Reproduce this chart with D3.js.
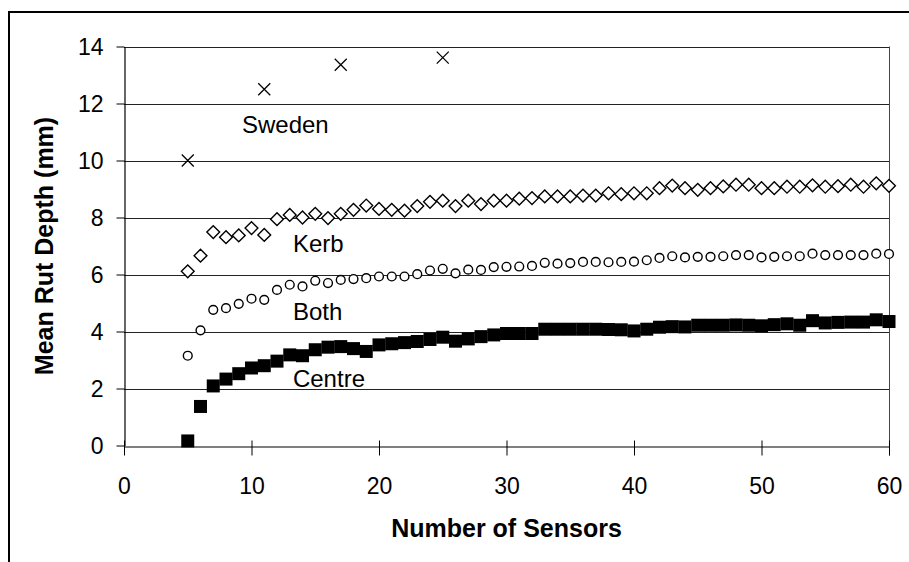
<!DOCTYPE html>
<html><head><meta charset="utf-8">
<script src="https://cdn.jsdelivr.net/npm/d3@7"></script>
<style>
body{margin:0;background:#fff}
svg{display:block;background:#fff}
text{font-family:"Liberation Sans",Arial,sans-serif;fill:#000}
</style>
</head><body>
<svg id="c" width="909" height="562"></svg>
<script>
// ---- data ----
const sensors = [5,6,7,8,9,10,11,12,13,14,15,16,17,18,19,20,21,22,23,24,25,26,27,28,29,30,31,32,33,34,35,36,37,38,39,40,41,42,43,44,45,46,47,48,49,50,51,52,53,54,55,56,57,58,59,60];
const kerb = [6.11,6.66,7.49,7.31,7.37,7.63,7.39,7.94,8.09,8.0,8.13,7.98,8.13,8.27,8.42,8.3,8.27,8.24,8.4,8.55,8.59,8.4,8.59,8.47,8.59,8.59,8.66,8.68,8.74,8.74,8.74,8.77,8.77,8.85,8.82,8.85,8.85,9.03,9.12,9.03,8.97,9.03,9.09,9.15,9.15,9.03,9.03,9.08,9.08,9.13,9.08,9.1,9.15,9.08,9.2,9.11];
const both = [3.15,4.04,4.76,4.82,4.97,5.15,5.11,5.46,5.64,5.58,5.78,5.70,5.81,5.84,5.87,5.93,5.93,5.93,6.01,6.14,6.2,6.04,6.17,6.16,6.26,6.27,6.28,6.3,6.41,6.38,6.4,6.44,6.44,6.43,6.44,6.45,6.5,6.58,6.64,6.6,6.62,6.62,6.64,6.68,6.68,6.6,6.62,6.64,6.64,6.73,6.68,6.68,6.68,6.68,6.73,6.72];
const centre = [0.16,1.37,2.09,2.33,2.52,2.72,2.8,2.96,3.18,3.15,3.36,3.45,3.47,3.4,3.3,3.53,3.57,3.61,3.65,3.72,3.8,3.66,3.74,3.82,3.88,3.93,3.93,3.93,4.08,4.08,4.08,4.08,4.08,4.07,4.06,4.02,4.08,4.15,4.17,4.16,4.22,4.22,4.22,4.23,4.22,4.2,4.24,4.27,4.22,4.38,4.3,4.32,4.33,4.33,4.41,4.35];
const swedenSensors = [5,11,17,25];
const sweden = [10.0,12.5,13.36,13.61];
const xTicks = [0,10,20,30,40,50,60];
const yTicks = [0,2,4,6,8,10,12,14];
const seriesNames = ["Sweden","Kerb","Both","Centre"];
const xTitle = "Number of Sensors";
const yTitle = "Mean Rut Depth (mm)";

// ---- layout ----
const svg = d3.select("#c");
const x = d3.scaleLinear().domain([0,60]).range([124,889]);
const y = d3.scaleLinear().domain([0,14]).range([445.5,46.5]);

// outer frame (top + left visible)
svg.append("path").attr("d","M9,562V12H909")
  .attr("fill","none").attr("stroke","#000").attr("stroke-width",2);

// gridlines
svg.append("g").selectAll("line").data(yTicks.filter(d=>d>0)).join("line")
  .attr("x1",x(0)).attr("x2",x(60))
  .attr("y1",d=>Math.round(y(d))+0.5).attr("y2",d=>Math.round(y(d))+0.5)
  .attr("stroke","#222").attr("stroke-width",1);

// right border of plot
svg.append("line").attr("x1",x(60)+0.5).attr("x2",x(60)+0.5)
  .attr("y1",y(14)).attr("y2",y(0)+10).attr("stroke","#444").attr("stroke-width",1);

// y axis
const gy = svg.append("g").attr("transform",`translate(${x(0)+0.5},0)`)
  .call(d3.axisLeft(y).tickValues(yTicks).tickSize(8).tickSizeOuter(0).tickFormat(d3.format("d")));
gy.select(".domain").attr("stroke","#000").attr("stroke-width",1.2);
gy.selectAll(".tick line").attr("stroke","#000");
gy.selectAll(".tick text").attr("x",-21).attr("dy","0.36em")
  .style("font-size","23px").style("font-family",'"Liberation Sans",Arial,sans-serif');

// x axis
const gx = svg.append("g").attr("transform",`translate(0,${Math.round(y(0))+0.5})`)
  .call(d3.axisBottom(x).tickValues(xTicks).tickSize(9).tickSizeOuter(0).tickFormat(d3.format("d")));
gx.select(".domain").attr("stroke","#000").attr("stroke-width",1.2);
gx.selectAll(".tick line").attr("y1",-6).attr("stroke","#000");
gx.selectAll(".tick text").attr("y",47.5).attr("dy",0)
  .style("font-size","23px").style("font-family",'"Liberation Sans",Arial,sans-serif');

// titles
svg.append("text").attr("x",(x(0)+x(60))/2).attr("y",537).attr("text-anchor","middle")
  .style("font-size","25px").style("font-weight","bold").text(xTitle);
svg.append("text").attr("transform",`translate(53,${(y(0)+y(14))/2}) rotate(-90)`)
  .attr("text-anchor","middle").style("font-size","25px").style("font-weight","bold").text(yTitle);

// series
const pts = (xsArr, ys) => xsArr.map((s,i)=>({s, v: ys[i]}));

// Centre: filled squares
svg.append("g").selectAll("rect").data(pts(sensors,centre)).join("rect")
  .attr("x",d=>x(d.s)-6.5).attr("y",d=>y(d.v)-6.5).attr("width",13).attr("height",13)
  .attr("fill","#000");

// Both: open circles
svg.append("g").selectAll("circle").data(pts(sensors,both)).join("circle")
  .attr("cx",d=>x(d.s)).attr("cy",d=>y(d.v)).attr("r",4.4)
  .attr("fill","#fff").attr("stroke","#000").attr("stroke-width",1.4);

// Kerb: open diamonds
svg.append("g").selectAll("path").data(pts(sensors,kerb)).join("path")
  .attr("d",d=>{const cx=x(d.s), cy=y(d.v), r=6.4; return `M${cx},${cy-r}L${cx+r},${cy}L${cx},${cy+r}L${cx-r},${cy}Z`;})
  .attr("fill","#fff").attr("stroke","#000").attr("stroke-width",1.4);

// Sweden: crosses
svg.append("g").selectAll("path").data(pts(swedenSensors,sweden)).join("path")
  .attr("d",d=>{const cx=x(d.s), cy=y(d.v), r=6; return `M${cx-r},${cy-r}L${cx+r},${cy+r}M${cx-r},${cy+r}L${cx+r},${cy-r}`;})
  .attr("fill","none").attr("stroke","#000").attr("stroke-width",1.3);

// series labels placed in data units
const labelPos = [[9.25,10.97],[13.25,6.8],[13.25,4.41],[13.25,2.06]];
svg.append("g").selectAll("text").data(seriesNames).join("text")
  .attr("x",(d,i)=>x(labelPos[i][0])).attr("y",(d,i)=>y(labelPos[i][1]))
  .style("font-size","24px").text(d=>d);
</script>
</body></html>
